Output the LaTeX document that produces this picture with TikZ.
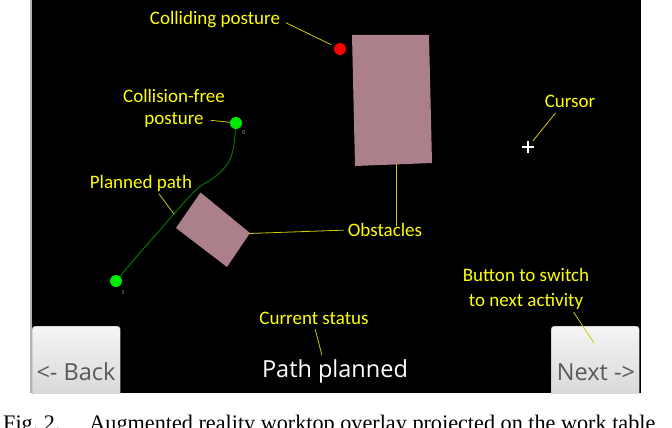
\documentclass[tikz,border=0pt]{standalone}
\usepackage{fontspec}
\setmainfont{Carlito}
\newfontfamily\uifont{Open Sans}
\newfontfamily\capfont{Liberation Serif}
\usetikzlibrary{positioning}
\definecolor{calloutyellow}{RGB}{255,255,0}
\definecolor{leaderyellow}{RGB}{205,205,0}
\definecolor{obstaclepink}{RGB}{172,128,138}
\definecolor{pathgreen}{RGB}{0,140,0}
\definecolor{dotgreen}{RGB}{0,235,0}
\tikzset{
  callout/.style={text=calloutyellow, inner sep=0pt, font=\fontsize{19}{25}\selectfont},
  leader/.style={leaderyellow, line width=0.8pt},
  knob/.style={circle, inner sep=0pt, minimum size=12pt},
  button/.style={draw=gray!70, top color=gray!8, bottom color=gray!32, rounded corners=3pt},
  buttontext/.style={text=black!65, font=\uifont\fontsize{23.5}{27}\selectfont},
  tinynum/.style={text=gray!70, font=\fontsize{6}{7}\selectfont, inner sep=0pt}
}
\begin{document}
\begin{tikzpicture}[x=1pt, y=-1pt]
  \useasboundingbox (0,0) rectangle (672,428);
  % Sfondo e piano di lavoro
  \fill[white] (0,0) rectangle (672,428);
  \fill[black] (30,0) rectangle (641,393);
  \draw[gray!60, line width=1.5pt] (31,0) -- (31,393);

  % Pulsanti
  \begin{scope}
    \clip (30,0) rectangle (641,393);
    \node[button, minimum width=88pt, minimum height=74pt, anchor=north west] (back) at (32,326) {};
    \node[button, minimum width=88pt, minimum height=74pt, anchor=north west] (next) at (551,326) {};
  \end{scope}
  \node[buttontext] (backtext) at (76,372) {<- Back};
  \node[buttontext] (nexttext) at (596,372) {Next ->};

  % Ostacoli
  \fill[obstaclepink] (352,35) -- (429,35) -- (432,163) -- (355,166) -- cycle;
  \fill[obstaclepink] (200.5,192.5) -- (250,233) -- (227,267) -- (176,228) -- cycle;
  \coordinate (bigfoot) at (396,164);
  \coordinate (smallside) at (249,233.5);

  % Percorso pianificato
  \draw[pathgreen, line width=0.8pt] plot[smooth, tension=0.6] coordinates
    {(236,123) (233,150) (226,166) (212,179) (198,188) (180,207) (160,230) (138,255) (116,281)};
  \coordinate (onpath) at (174,214);

  % Posture
  \node[knob, fill=red] (collide) at (340,49) {};
  \node[knob, fill=dotgreen] (goal) at (236,123) {};
  \node[knob, fill=dotgreen] (start) at (116,281) {};
  \node[tinynum] (goalnum) at (244,133) {0};
  \node[tinynum] (startnum) at (123,293) {1};

  % Cursore
  \coordinate (cursor) at (528,147);
  \draw[white, line width=1.3pt] (522,147) -- (534,147) (528,141) -- (528,153);

  % Etichette
  \node[callout] (colliding) at (215,20) {Colliding posture};
  \draw[leader, shorten <=6pt, shorten >=4pt] (colliding.east) -- (collide);

  \node[callout] (freetop) at (174,96) {Collision-free};
  \node[callout, below=9pt of freetop] (freebottom) {posture};
  \draw[leader, shorten <=7pt] (freebottom.east) -- (goal);

  \node[callout] (planned) at (141,183) {Planned path};
  \draw[leader, shorten <=3pt] ([xshift=16pt]planned.south) -- (onpath);

  \node[callout] (obstacles) at (385,230) {Obstacles};
  \draw[leader] (bigfoot) -- ([yshift=-3pt]bigfoot |- obstacles.north);
  \draw[leader, shorten >=4pt] (smallside) -- (obstacles.west);

  \node[callout] (cursorlabel) at (570,101) {Cursor};
  \draw[leader, shorten <=7pt, shorten >=8pt] ([xshift=-10pt]cursorlabel.south) -- (cursor);

  \node[callout, align=center] (switch) at (526,289) {Button to switch\\to next activity};
  \coordinate (nextpoint) at (594,343);
  \draw[leader, shorten <=3pt] ([xshift=46pt]switch.south) -- (nextpoint);

  \node[callout] (status) at (314,318) {Current status};
  \node[text=white, font=\uifont\fontsize{23.5}{27}\selectfont] (pathstatus) at (335,371) {Path planned};
  \draw[leader, shorten <=5pt, shorten >=1pt] (status.south) -- ([xshift=-13pt]pathstatus.north);

  % Didascalia (tagliata dal bordo)
  \node[anchor=base west, inner sep=0pt, font=\capfont\fontsize{22.2}{26}\selectfont] (caption) at (3,430)
    {Fig.~2.\hspace{1.3em}Augmented reality worktop overlay projected on the work table};
\end{tikzpicture}
\end{document}
